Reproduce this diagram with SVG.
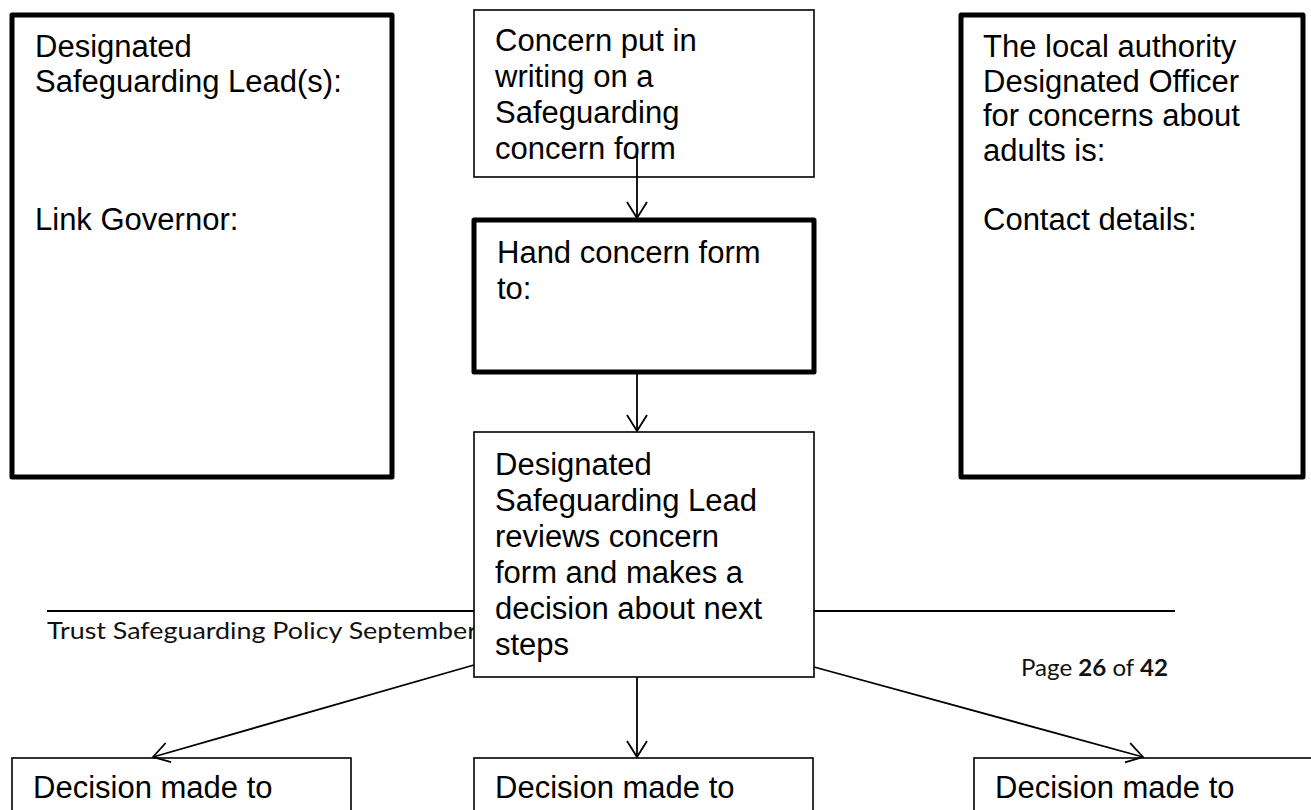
<svg xmlns="http://www.w3.org/2000/svg" width="1311" height="810" viewBox="0 0 1311 810">
<style>
.box{fill:#fff;stroke:#000;stroke-width:1.6}
.thick{fill:#fff;stroke:#000;stroke-width:5;stroke-linejoin:round}
.t{font-family:"Liberation Sans",Arial,sans-serif;font-size:31px;fill:#000}
.foot{font-family:Lato,"Open Sans",sans-serif;font-size:23px;fill:#111}
.conn{stroke:#000;stroke-width:1.8;fill:none}
</style>
<defs>
<marker id="arr" markerUnits="userSpaceOnUse" viewBox="-2 -2 20 24" markerWidth="20" markerHeight="24" refX="16" refY="10" orient="auto">
<path d="M0,0 L16,10 L0,20" fill="none" stroke="#000" stroke-width="1.8"/>
</marker>
</defs>
<rect width="1311" height="810" fill="#fff"/>
<g id="footer">
<line x1="47" y1="611" x2="1175" y2="611" stroke="#000" stroke-width="2"/>
<text class="foot" x="47" y="639" textLength="430" lengthAdjust="spacingAndGlyphs">Trust Safeguarding Policy September</text>
<text class="foot" x="1021" y="676" textLength="147" lengthAdjust="spacingAndGlyphs">Page <tspan font-weight="bold">26</tspan> of <tspan font-weight="bold">42</tspan></text>
</g>
<g id="dsl-box">
<rect class="thick" x="12" y="15" width="380" height="462"/>
<text class="t" x="35" y="57">Designated</text>
<text class="t" x="35" y="91.5">Safeguarding Lead(s):</text>
<text class="t" x="35" y="229.5">Link Governor:</text>
</g>
<g id="lado-box">
<rect class="thick" x="961" y="15" width="342" height="462"/>
<text class="t" x="983" y="57">The local authority</text>
<text class="t" x="983" y="91.5">Designated Officer</text>
<text class="t" x="983" y="126">for concerns about</text>
<text class="t" x="983" y="160.5">adults is:</text>
<text class="t" x="983" y="229.5">Contact details:</text>
</g>
<g id="concern-box">
<rect class="box" x="474" y="10" width="340" height="167"/>
<text class="t" x="495" y="51">Concern put in</text>
<text class="t" x="495" y="87">writing on a</text>
<text class="t" x="495" y="123">Safeguarding</text>
<text class="t" x="495" y="159">concern form</text>
</g>
<g id="hand-box">
<rect class="thick" x="474" y="220" width="340" height="152"/>
<text class="t" x="497" y="263">Hand concern form</text>
<text class="t" x="497" y="299">to:</text>
</g>
<g id="review-box">
<rect class="box" x="474" y="432" width="340" height="245"/>
<text class="t" x="495" y="475">Designated</text>
<text class="t" x="495" y="511">Safeguarding Lead</text>
<text class="t" x="495" y="547">reviews concern</text>
<text class="t" x="495" y="583">form and makes a</text>
<text class="t" x="495" y="619">decision about next</text>
<text class="t" x="495" y="655">steps</text>
</g>
<g id="decision-left">
<rect class="box" x="12" y="758" width="339" height="70"/>
<text class="t" x="33" y="798">Decision made to</text>
</g>
<g id="decision-middle">
<rect class="box" x="474" y="758" width="339" height="70"/>
<text class="t" x="495" y="798">Decision made to</text>
</g>
<g id="decision-right">
<rect class="box" x="974" y="758" width="360" height="70"/>
<text class="t" x="995" y="798">Decision made to</text>
</g>
<g id="connectors">
<line class="conn" x1="637" y1="150" x2="637" y2="218" marker-end="url(#arr)"/>
<line class="conn" x1="637" y1="372" x2="637" y2="431" marker-end="url(#arr)"/>
<line class="conn" x1="474" y1="665" x2="153" y2="757" marker-end="url(#arr)"/>
<line class="conn" x1="637" y1="677" x2="637" y2="757" marker-end="url(#arr)"/>
<line class="conn" x1="814" y1="667" x2="1143" y2="757" marker-end="url(#arr)"/>
</g>
</svg>
